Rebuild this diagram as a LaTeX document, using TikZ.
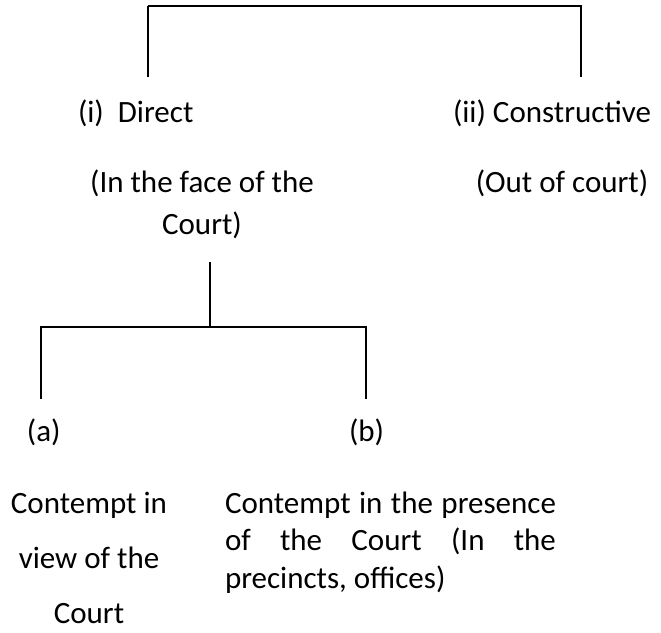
\documentclass[tikz,border=0pt]{standalone}
\usepackage{fontspec}
\setmainfont{Carlito}
\usepackage{tikz}
\usetikzlibrary{positioning}

\begin{document}
\begin{tikzpicture}
  [x=1pt,y=-1pt,every node/.style={inner sep=0pt, outer sep=0pt, font=\fontsize{31}{42}\selectfont},
   branch/.style={line width=1.8pt}]
  \useasboundingbox (0,0) rectangle (661,632);

  % first level
  \node [anchor=base west] (direct) at (78,122) {(i)\ \ Direct};
  \node [anchor=base west] (constr) at (453,122) {(ii) Constructive};
  \node [anchor=base, align=center] (face) at (202,234) {(In the face of the\\Court)};
  \node [anchor=base] (out) at (562,192) {(Out of court)};

  % second level
  \node [anchor=base west] (a) at (27,441) {(a)};
  \node [anchor=base west] (b) at (349,441) {(b)};
  \node [anchor=base, align=center, font=\fontsize{31}{55}\selectfont] (view) at (89,623)
    {Contempt in\\view of the\\Court};
  \node [anchor=base west, text width=331pt, align=justify, font=\fontsize{31}{37.5}\selectfont] (presence) at (225,513)
    {Contempt in the \mbox{presence} of the Court (In the \mbox{precincts,} \mbox{offices)}};

  \coordinate (dirTop) at (148,77);
  \coordinate (conTop) at (581,77);
  \coordinate (faceBot) at (210,262);
  \coordinate (split) at (210,327);
  \coordinate (aTop) at (41,399);
  \coordinate (bTop) at (366,399);

  \path [-] [branch]
  (dirTop) edge ++(0,-71)
  (faceBot) edge (split);
  \draw [branch] (dirTop) ++(0,-71) -| (conTop);
  \draw [branch] (aTop) |- (split) -| (bTop);
\end{tikzpicture}
\end{document}
